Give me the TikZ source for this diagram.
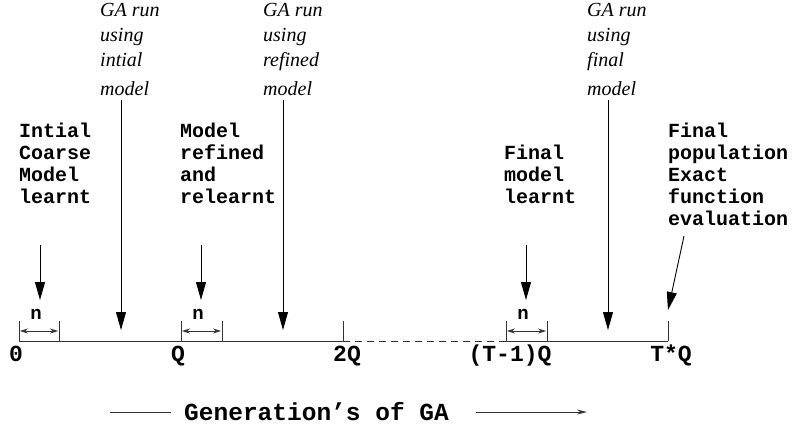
\documentclass[tikz,border=0pt]{standalone}
\usepackage{fontspec}
\setmainfont{Liberation Serif}
\setmonofont{Liberation Mono}
\usetikzlibrary{arrows.meta}
\tikzset{
  ln/.style={draw=black!80, line width=0.9pt},
  big/.style={draw=black, line width=0.9pt, -{Triangle[length=18pt,width=10pt]}},
  narr/.style={ln, line width=0.7pt, {Stealth[length=8pt,width=5pt]}-{Stealth[length=8pt,width=5pt]}},
  lbl/.style={inner sep=0pt, align=left, anchor=north west, font=\ttfamily\bfseries\fontsize{20}{22}\selectfont},
  ital/.style={inner sep=0pt, align=left, anchor=north west, font=\itshape\fontsize{20}{25}\selectfont},
  axl/.style={inner sep=0pt, anchor=base, font=\ttfamily\bfseries\fontsize{23}{23}\selectfont},
  nl/.style={inner sep=0pt, anchor=base, font=\ttfamily\bfseries\fontsize{19}{19}\selectfont},
}
\begin{document}
\begin{tikzpicture}[x=1pt,y=-1pt]
\useasboundingbox (0,0) rectangle (792,429);
% axis coordinates
\coordinate (t0) at (19,341);
\coordinate (t0u) at (19,321);
\coordinate (n0) at (59,341);
\coordinate (n0u) at (59,321);
\coordinate (tQ) at (181,341);
\coordinate (tQu) at (181,321);
\coordinate (nQ) at (222,341);
\coordinate (nQu) at (222,321);
\coordinate (t2Q) at (343,341);
\coordinate (t2Qu) at (343,321);
\coordinate (tT1) at (506,341);
\coordinate (tT1u) at (506,321);
\coordinate (nT) at (547,341);
\coordinate (nTu) at (547,321);
\coordinate (tT) at (668,341);
\coordinate (tTu) at (668,321);
% axis
\draw[ln] (t0) -- (t2Q);
\draw[ln, dashed, dash pattern=on 7pt off 5pt] (t2Q) -- (tT1);
\draw[ln] (tT1) -- (tT);
\foreach \c in {t0,n0,tQ,nQ,t2Q,tT1,nT,tT} \draw[ln] (\c) -- (\c u);
% n intervals
\coordinate (a0) at (20,331); \coordinate (b0) at (58,331);
\coordinate (a1) at (182,331); \coordinate (b1) at (221,331);
\coordinate (a2) at (507,331); \coordinate (b2) at (546,331);
\draw[narr] (a0) -- (b0);
\draw[narr] (a1) -- (b1);
\draw[narr] (a2) -- (b2);
\node[nl] (n1) at (36,319) {n};
\node[nl] (n2) at (198,319) {n};
\node[nl] (n3) at (523,319) {n};
% axis labels
\node[axl] (l0) at (16,361) {0};
\node[axl] (lQ) at (178,361) {Q};
\node[axl] (l2Q) at (347,361) {2Q};
\node[axl] (lT1) at (510,361) {(T-1)Q};
\node[axl] (lT) at (671,361) {T*Q};
% bold labels
\node[lbl] (c1) at (19,123) {Intial\\Coarse\\Model\\learnt};
\node[lbl] (c2) at (180,123) {Model\\refined\\and\\relearnt};
\node[lbl] (c3) at (504,145) {Final\\model\\learnt};
\node[lbl] (c4) at (668,123) {Final\\population\\Exact\\function\\evaluation};
% italic labels
\node[ital] (g1) at (100,3) {GA run\\using\\intial\\[4pt]model};
\node[ital] (g2) at (263,3) {GA run\\using\\refined\\[4pt]model};
\node[ital] (g3) at (587,3) {GA run\\using\\final\\[4pt]model};
% arrows
\coordinate (s1) at (40,245); \coordinate (e1) at (40,300);
\coordinate (s2) at (121,100); \coordinate (e2) at (121,330);
\coordinate (s3) at (201,245); \coordinate (e3) at (201,300);
\coordinate (s4) at (283,100); \coordinate (e4) at (283,330);
\coordinate (s5) at (526,245); \coordinate (e5) at (526,300);
\coordinate (s6) at (608,100); \coordinate (e6) at (608,330);
\coordinate (s7) at (684,236); \coordinate (e7) at (668,310);
\foreach \i in {1,...,7} \draw[big] (s\i) -- (e\i);
% generations
\node[inner sep=0pt, anchor=base west, font=\ttfamily\bfseries\fontsize{24.5}{24.5}\selectfont] (gen) at (184,420) {Generation’s of GA};
\coordinate (ga) at (110,412); \coordinate (gb) at (171,412);
\coordinate (gc) at (476,412); \coordinate (gd) at (587,412);
\draw[ln] (ga) -- (gb);
\draw[ln, -{Stealth[length=10pt,width=5pt]}] (gc) -- (gd);
\end{tikzpicture}
\end{document}
